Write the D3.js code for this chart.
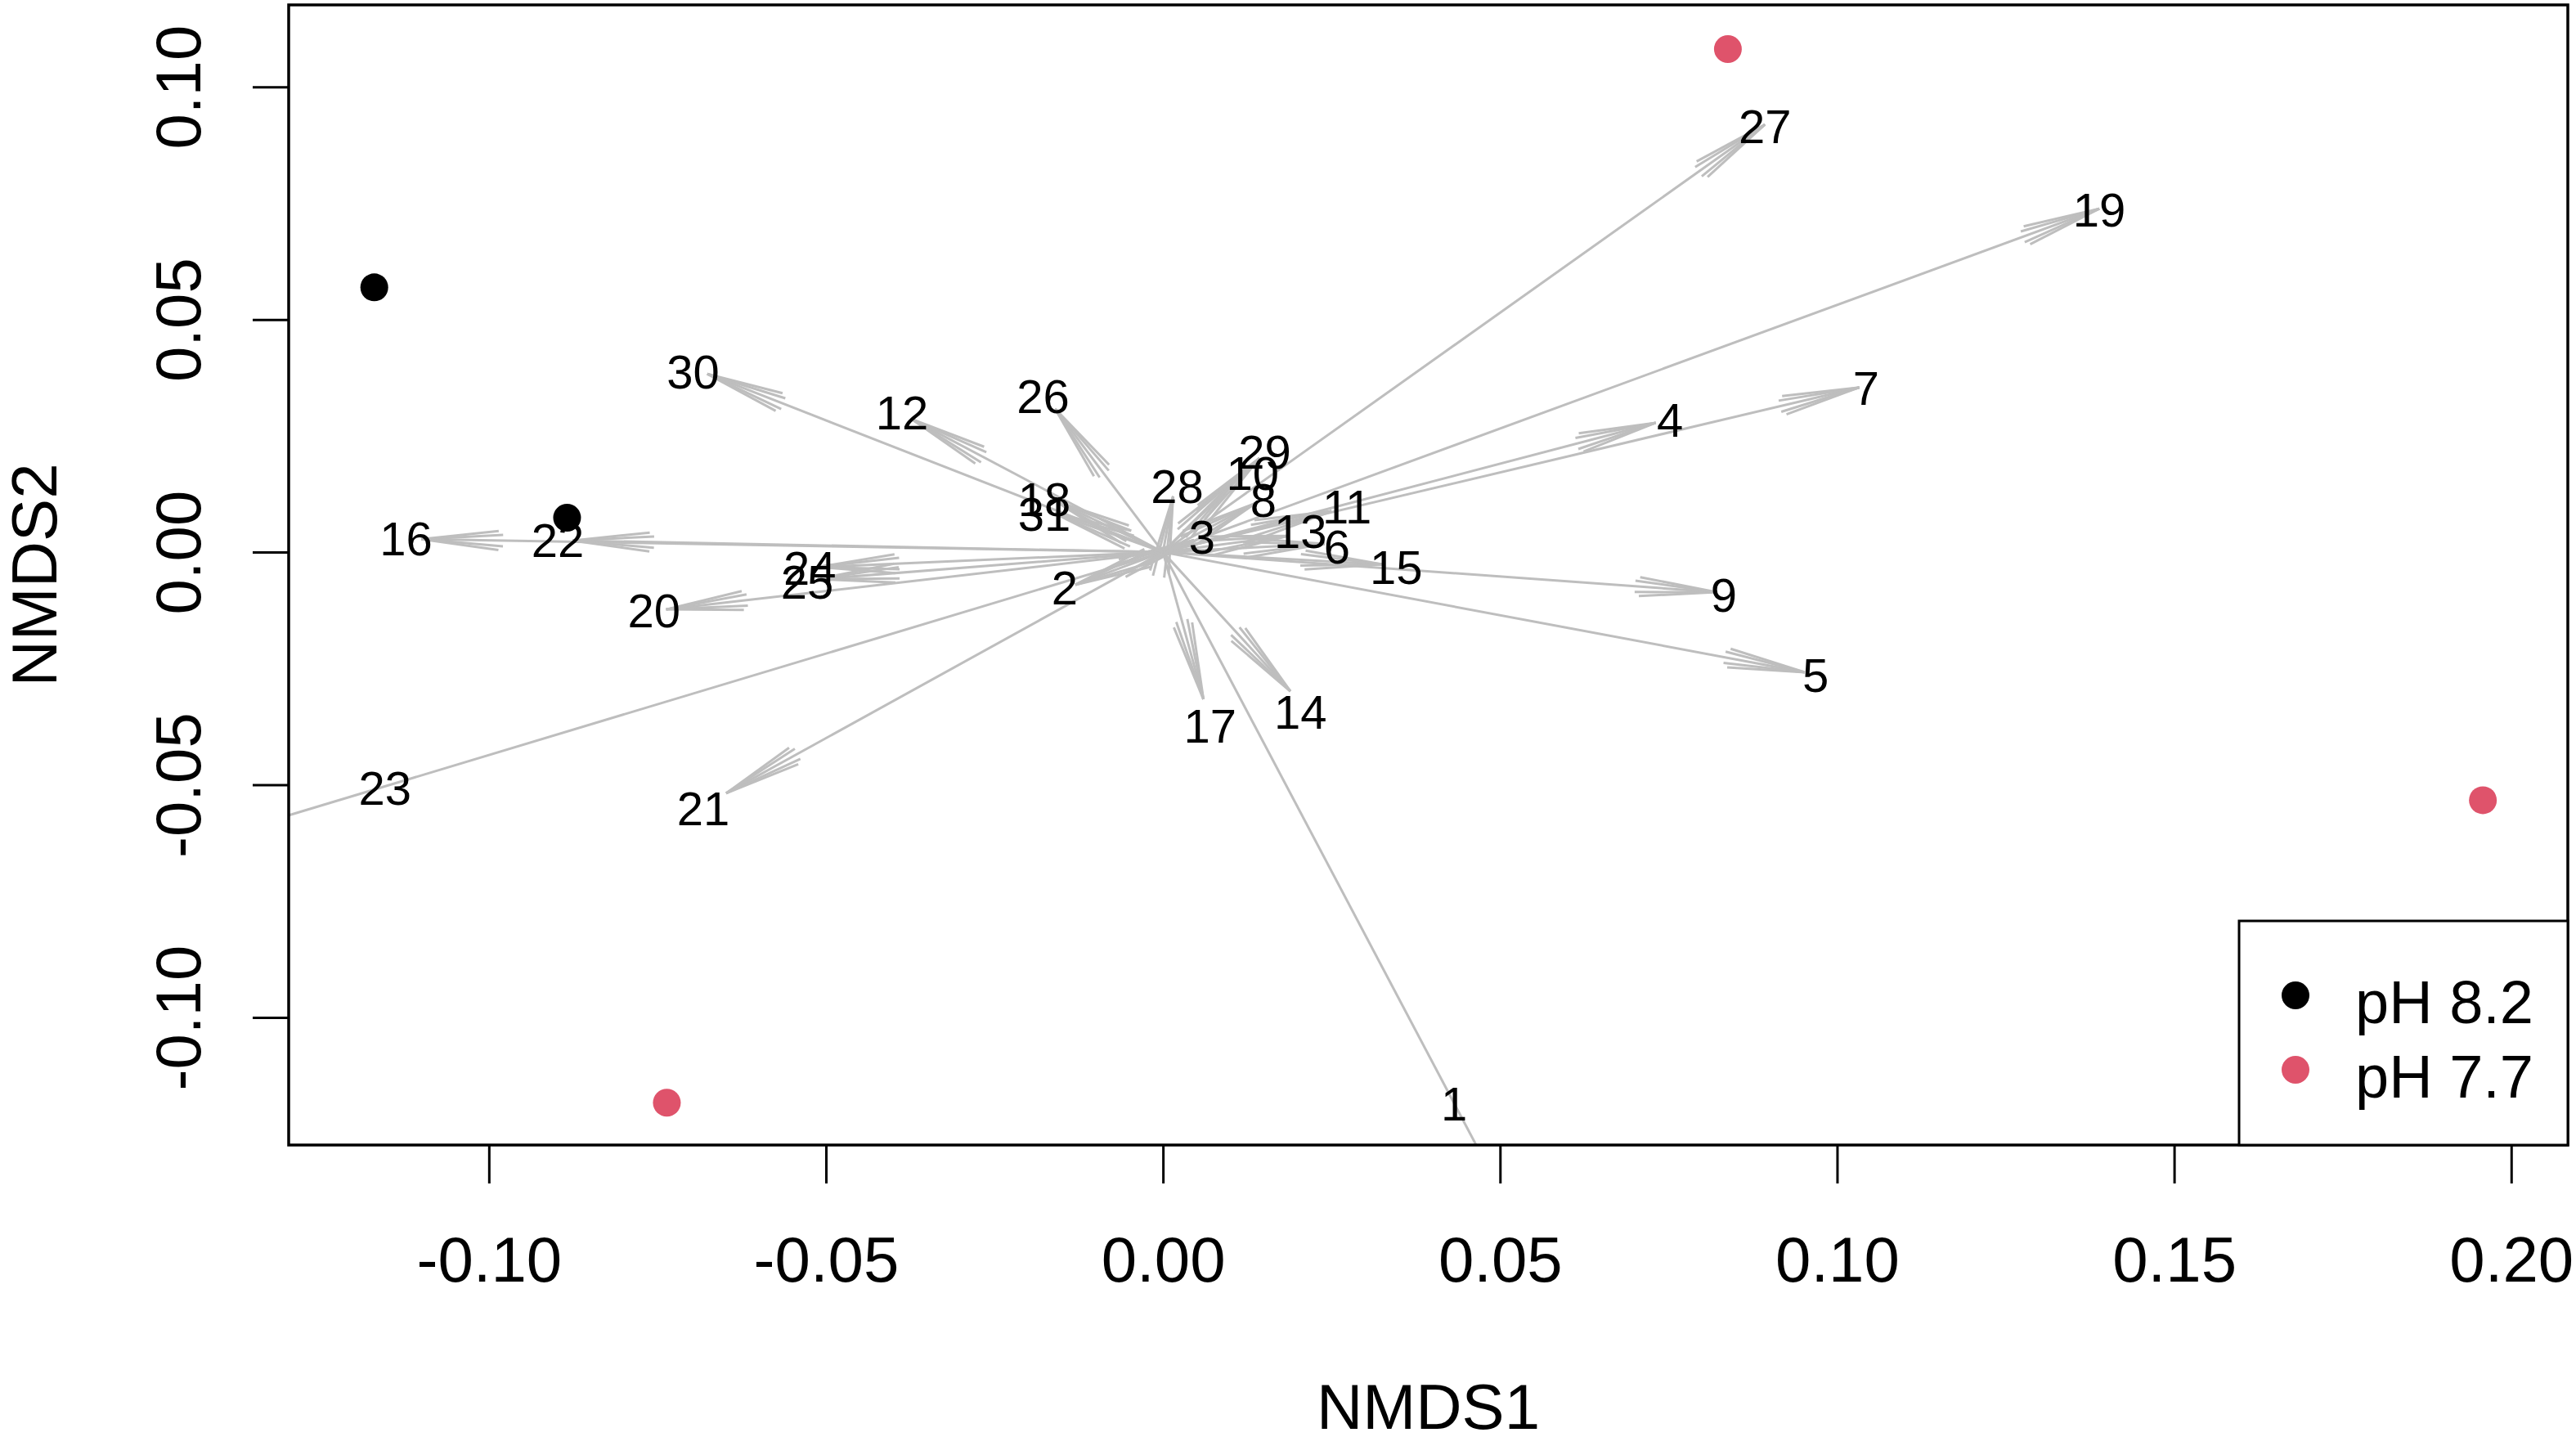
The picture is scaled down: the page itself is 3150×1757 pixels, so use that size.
<!DOCTYPE html>
<html lang="en">
<meta charset="utf-8">

<head>
    <title>NMDS with fitted vectors</title>
    <script type="text/javascript" src="https://cdn.jsdelivr.net/npm/d3@7/dist/d3.min.js"></script>
    <style>
        body {
            margin: 0;
            background-color: #fff;
        }

        svg {
            font-family: "Liberation Sans", Arial, sans-serif;
        }

        .vector line {
            stroke: #bebebe;
            stroke-width: 3px;
        }
    </style>
</head>

<body>
    <script>
        // Sample scores (NMDS1, NMDS2) and their pH group
        const sampleX = [-0.1170, -0.0884, 0.0838, 0.1958, -0.0736];
        const sampleY = [0.0569, 0.0074, 0.1081, -0.0533, -0.1183];
        const sampleGroup = [0, 0, 1, 1, 1];

        const groupNames = ["pH 8.2", "pH 7.7"];
        const groupColors = ["#000000", "#df536b"];

        // Fitted vectors: arrow tips and label positions (NMDS units)
        const vecLabel = ["1", "2", "3", "4", "5", "6", "7", "8", "9", "10",
            "11", "12", "13", "14", "15", "16", "17", "18", "19", "20",
            "21", "22", "23", "24", "25", "26", "27", "28", "29", "30", "31"];
        const vecX = [0.0547, -0.0130, 0.0046, 0.0731, 0.0952, 0.0240, 0.1033, 0.0137, 0.0821, 0.0113,
            0.0250, -0.0373, 0.0185, 0.0189, 0.0325, -0.1100, 0.0060, -0.0160, 0.1389, -0.0737,
            -0.0648, -0.0876, -0.1500, -0.0512, -0.0512, -0.0160, 0.0893, 0.0015, 0.0143, -0.0676, -0.0160];
        const vecY = [-0.1500, -0.0070, 0.0026, 0.0278, -0.0258, 0.0018, 0.0354, 0.0105, -0.0086, 0.0165,
            0.0088, 0.0286, 0.0035, -0.0299, -0.0026, 0.0028, -0.0316, 0.0110, 0.0738, -0.0123,
            -0.0518, 0.0025, -0.0654, -0.0032, -0.0058, 0.0308, 0.0919, 0.0120, 0.0202, 0.0383, 0.0083];
        const labX = [0.0432, -0.0146, 0.0058, 0.0752, 0.0968, 0.0258, 0.1043, 0.0149, 0.0832, 0.0133,
            0.0273, -0.0387, 0.0204, 0.0204, 0.0346, -0.1123, 0.0070, -0.0176, 0.1389, -0.0755,
            -0.0682, -0.0898, -0.1154, -0.0524, -0.0528, -0.0178, 0.0893, 0.0021, 0.0151, -0.0697, -0.0176];
        const labY = [-0.1186, -0.0077, 0.0032, 0.0283, -0.0265, 0.0012, 0.0353, 0.0111, -0.0093, 0.0170,
            0.0097, 0.0299, 0.0044, -0.0344, -0.0033, 0.0028, -0.0373, 0.0114, 0.0735, -0.0125,
            -0.0552, 0.0025, -0.0508, -0.0035, -0.0065, 0.0334, 0.0914, 0.0141, 0.0216, 0.0388, 0.0081];

        // Axis ticks
        const xTicks = [-0.10, -0.05, 0.00, 0.05, 0.10, 0.15, 0.20];
        const yTicks = [-0.10, -0.05, 0.00, 0.05, 0.10];

        const width = 3150, height = 1757;
        const plot = { left: 353, right: 3140, top: 6, bottom: 1400 };

        const svg = d3.select("body").append("svg")
            .attr("width", width)
            .attr("height", height);

        const x = d3.scaleLinear().domain([-0.1297, 0.2084]).range([plot.left, plot.right]);
        const y = d3.scaleLinear().domain([-0.1274, 0.1176]).range([plot.bottom, plot.top]);

        svg.append("clipPath").attr("id", "plotClip")
            .append("rect")
            .attr("x", plot.left).attr("y", plot.top)
            .attr("width", plot.right - plot.left)
            .attr("height", plot.bottom - plot.top);

        // Sample points
        svg.append("g").selectAll("circle")
            .data(sampleX.map((d, i) => ({ x: d, y: sampleY[i], g: sampleGroup[i] })))
            .enter().append("circle")
            .attr("cx", d => x(d.x))
            .attr("cy", d => y(d.y))
            .attr("r", 17)
            .attr("fill", d => groupColors[d.g]);

        // Vectors with open arrow heads (barbs drawn twice, as in the original)
        const vectors = vecLabel.map((l, i) => ({
            label: l, x: vecX[i], y: vecY[i], lx: labX[i], ly: labY[i]
        }));

        const barbs = [[100, 4], [95, 7]];   // [length px, half-angle deg]
        const vg = svg.append("g").attr("class", "vector").attr("clip-path", "url(#plotClip)");

        vectors.forEach(d => {
            const x0 = x(0), y0 = y(0), x1 = x(d.x), y1 = y(d.y);
            vg.append("line").attr("x1", x0).attr("y1", y0).attr("x2", x1).attr("y2", y1);
            const a = Math.atan2(y0 - y1, x0 - x1);
            barbs.forEach(([len, deg]) => {
                [-1, 1].forEach(s => {
                    const t = a + s * deg * Math.PI / 180;
                    vg.append("line")
                        .attr("x1", x1).attr("y1", y1)
                        .attr("x2", x1 + len * Math.cos(t))
                        .attr("y2", y1 + len * Math.sin(t));
                });
            });
        });

        svg.append("g").selectAll("text")
            .data(vectors)
            .enter().append("text")
            .attr("x", d => x(d.lx))
            .attr("y", d => y(d.ly))
            .attr("dy", "0.35em")
            .attr("text-anchor", "middle")
            .attr("font-size", 58)
            .text(d => d.label);

        // Axes
        const xAxis = svg.append("g")
            .attr("transform", `translate(0,${plot.bottom})`)
            .call(d3.axisBottom(x).tickValues(xTicks).tickSize(47).tickFormat(d => d.toFixed(2)));
        const yAxis = svg.append("g")
            .attr("transform", `translate(${plot.left},0)`)
            .call(d3.axisLeft(y).tickValues(yTicks).tickSize(44).tickFormat(d => d.toFixed(2)));

        [xAxis, yAxis].forEach(g => {
            g.select(".domain").remove();
            g.selectAll(".tick line").attr("stroke", "#000").attr("stroke-width", 3);
            g.selectAll(".tick text")
                .attr("font-size", 78)
                .attr("font-family", "Liberation Sans, Arial, sans-serif")
                .attr("fill", "#000");
        });

        xAxis.selectAll(".tick text").attr("y", 140).attr("dy", "0.35em");
        yAxis.selectAll(".tick text")
            .attr("x", 0).attr("y", 0).attr("dy", "0.35em")
            .attr("text-anchor", "middle")
            .attr("transform", "translate(-135,0) rotate(-90)");

        // Plot box
        svg.append("rect")
            .attr("x", plot.left).attr("y", plot.top)
            .attr("width", plot.right - plot.left)
            .attr("height", plot.bottom - plot.top)
            .attr("fill", "none")
            .attr("stroke", "#000")
            .attr("stroke-width", 3.5);

        // Axis titles
        svg.append("text")
            .attr("x", (plot.left + plot.right) / 2)
            .attr("y", 1720)
            .attr("dy", "0.35em")
            .attr("text-anchor", "middle")
            .attr("font-size", 78)
            .text("NMDS1");

        svg.append("text")
            .attr("transform", `translate(42,${(plot.top + plot.bottom) / 2}) rotate(-90)`)
            .attr("dy", "0.35em")
            .attr("text-anchor", "middle")
            .attr("font-size", 78)
            .text("NMDS2");

        // Legend
        const legend = svg.append("g").attr("transform", "translate(2738,1126)");
        legend.append("rect")
            .attr("width", plot.right - 2738)
            .attr("height", plot.bottom - 1126)
            .attr("fill", "#fff")
            .attr("stroke", "#000")
            .attr("stroke-width", 3);

        const items = legend.selectAll(".item")
            .data(groupNames)
            .enter().append("g")
            .attr("transform", (d, i) => `translate(0,${91 + i * 91})`);
        items.append("circle")
            .attr("cx", 69).attr("cy", 0).attr("r", 17)
            .attr("fill", (d, i) => groupColors[i]);
        items.append("text")
            .attr("x", 142).attr("y", 8)
            .attr("dy", "0.35em")
            .attr("font-size", 74)
            .text(d => d);
    </script>
</body>

</html>
